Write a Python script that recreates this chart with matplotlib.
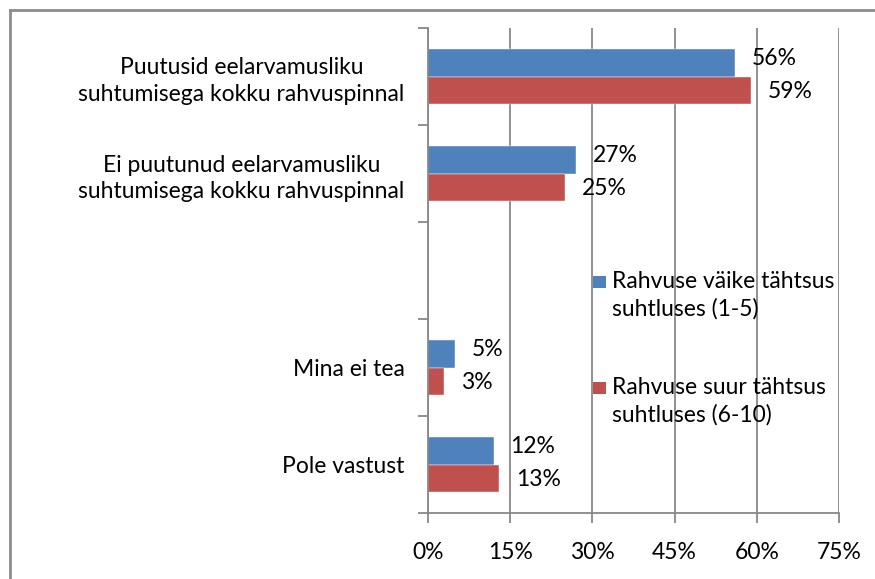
import matplotlib
matplotlib.use("Agg")
import matplotlib.pyplot as plt
from matplotlib.lines import Line2D
from matplotlib.patches import Rectangle
import numpy as np

categories = ["Puutusid eelarvamusliku\nsuhtumisega kokku rahvuspinnal",
              "Ei puutunud eelarvamusliku\nsuhtumisega kokku rahvuspinnal",
              "",
              "Mina ei tea",
              "Pole vastust"]
series_names = ["Rahvuse väike tähtsus\nsuhtluses (1-5)",
                "Rahvuse suur tähtsus\nsuhtluses (6-10)"]
small_importance = [56, 27, None, 5, 12]
large_importance = [59, 25, None, 3, 13]
xticks = [0, 15, 30, 45, 60, 75]
xticklabels = ["0%", "15%", "30%", "45%", "60%", "75%"]

colors = ["#4F81BD", "#C0504D"]
grid_c = "#888888"

plt.rcParams['font.family'] = ['Lato', 'DejaVu Sans']
fs = 16.5

fig = plt.figure(figsize=(8.75, 5.79), dpi=100)
ax = fig.add_axes([428/875, 1-513/579, (839-428)/875, (513-28)/579])

y = np.arange(len(categories))
h = 0.284
for vals, off, c, dy in [(small_importance, -h/2, colors[0], 3),
                         (large_importance, h/2, colors[1], -1)]:
    for i, v in enumerate(vals):
        if v is None:
            continue
        ax.barh(y[i] + off, v, height=h, color=c, edgecolor='white', linewidth=0.3)
        ax.annotate(f"{v}%", (v, y[i] + off), xytext=(12, dy), textcoords='offset points',
                    va='center', ha='left', fontsize=fs, color='black')

ax.set_xlim(0, 75)
ax.set_ylim(4.5, -0.5)
ax.set_xticks(xticks)
ax.set_xticklabels(xticklabels, fontsize=fs)
ax.set_yticks(y)
ax.set_yticklabels(categories, fontsize=fs, ha='right', multialignment='center',
                   linespacing=1.3)
ax.set_yticks(np.arange(-0.5, 5, 1), minor=True)
ax.tick_params(axis='y', which='major', length=0, pad=17)
ax.tick_params(axis='y', which='minor', length=7, width=1.3, color=grid_c, direction='out')
ax.tick_params(axis='x', length=7, width=1.3, color=grid_c, pad=14)
ax.grid(axis='x', color=grid_c, linewidth=1.3)
ax.set_axisbelow(True)
for s in ['top', 'right']:
    ax.spines[s].set_visible(False)
for s in ['left', 'bottom']:
    ax.spines[s].set_color(grid_c)
    ax.spines[s].set_linewidth(1.3)

# legend (manual, handle aligned with first text line)
def px2fig(xp, yp):
    return xp/875, 1 - yp/579
for k, (name, c) in enumerate(zip(series_names, colors)):
    top = 271 + k*106
    x0, y0 = px2fig(593, top + 17)
    fig.patches.append(Rectangle((x0, y0), 13/875, 12/579, transform=fig.transFigure,
                                 facecolor=c, edgecolor='none'))
    tx, ty = px2fig(612, top)
    fig.text(tx, ty, name, fontsize=fs, va='top', ha='left', linespacing=1.35)

# outer frame
fig.add_artist(Line2D([10/875, 10/875], [0, 1-10/579], transform=fig.transFigure,
                      color='#8c8c8c', linewidth=2))
fig.add_artist(Line2D([10/875, 1], [1-10/579, 1-10/579], transform=fig.transFigure,
                      color='#8c8c8c', linewidth=2))

fig.savefig("out.png", dpi=100)
